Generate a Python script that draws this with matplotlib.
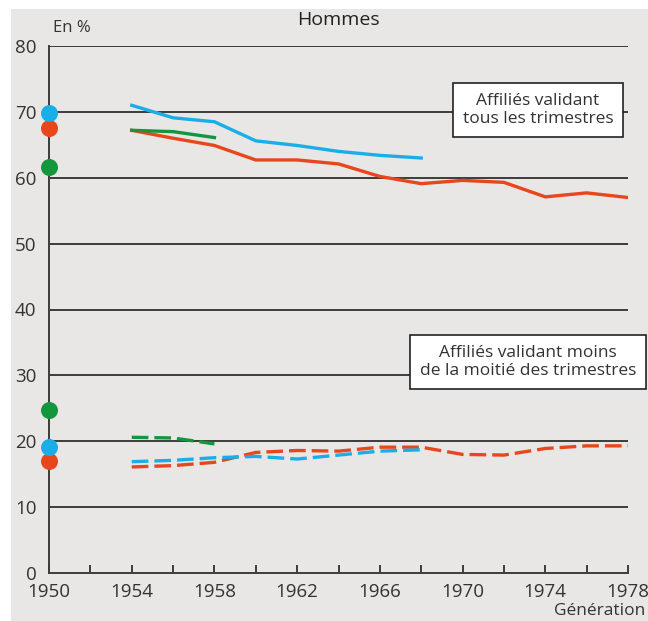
import matplotlib.pyplot as plt
from matplotlib.patches import Rectangle

plt.rcParams['font.family'] = ['Open Sans', 'DejaVu Sans']

# générations
gen_bleu = [1954, 1956, 1958, 1960, 1962, 1964, 1966, 1968]
gen_vert = [1954, 1956, 1958]
gen_rouge = [1954, 1956, 1958, 1960, 1962, 1964, 1966, 1968, 1970, 1972, 1974, 1976, 1978]

# affiliés validant tous les trimestres
tous_bleu = [71.0, 69.1, 68.5, 65.6, 64.9, 64.0, 63.4, 63.0]
tous_vert = [67.2, 67.0, 66.1]
tous_rouge = [67.2, 66.0, 64.9, 62.7, 62.7, 62.1, 60.2, 59.1, 59.6, 59.3, 57.1, 57.7, 57.0]

# affiliés validant moins de la moitié des trimestres
moins_bleu = [16.9, 17.1, 17.5, 17.7, 17.3, 17.9, 18.5, 18.7]
moins_vert = [20.6, 20.5, 19.6]
moins_rouge = [16.1, 16.3, 16.8, 18.3, 18.6, 18.5, 19.1, 19.1, 18.0, 17.9, 18.9, 19.3, 19.3]

# génération 1950 (points)
pts_tous = {"bleu": 69.9, "rouge": 67.6, "vert": 61.6}
pts_moins = {"bleu": 19.1, "rouge": 17.0, "vert": 24.8}

couleurs = {"bleu": "#1aaee8", "rouge": "#e8461c", "vert": "#14973c"}
gris_fond = "#e8e7e5"
gris_txt = "#333333"

fig = plt.figure(figsize=(6.48, 6.21), dpi=100, facecolor="white")
fig.patches.append(Rectangle((11 / 648, 0), 1, 1 - 9 / 621, transform=fig.transFigure,
                             facecolor=gris_fond, edgecolor="none", zorder=-10))

ax = fig.add_axes([49 / 648, 48 / 621, 579 / 648, 527 / 621])
ax.set_facecolor("none")
ax.set_xlim(1950, 1978)
ax.set_ylim(0, 80)

for v in range(10, 90, 10):
    ax.axhline(v, color="#3c3c3c", lw=1.4, zorder=1)

lw = 2.4
ax.plot(gen_bleu, tous_bleu, color=couleurs["bleu"], lw=lw, zorder=3)
ax.plot(gen_rouge, tous_rouge, color=couleurs["rouge"], lw=lw, zorder=3)
ax.plot(gen_vert, tous_vert, color=couleurs["vert"], lw=lw, zorder=4)

dash = (0, (5, 1.8))
ax.plot(gen_vert, moins_vert, color=couleurs["vert"], lw=lw, ls=dash, zorder=3)
ax.plot(gen_rouge, moins_rouge, color=couleurs["rouge"], lw=lw, ls=dash, zorder=3)
ax.plot(gen_bleu, moins_bleu, color=couleurs["bleu"], lw=lw, ls=dash, zorder=4)

for nom in ["vert", "rouge", "bleu"]:
    ax.scatter([1950], [pts_tous[nom]], s=150, color=couleurs[nom], zorder=5, clip_on=False, lw=0)
    ax.scatter([1950], [pts_moins[nom]], s=150, color=couleurs[nom], zorder=5, clip_on=False, lw=0)

for s in ["top", "right"]:
    ax.spines[s].set_visible(False)
for s in ["left", "bottom"]:
    ax.spines[s].set_color("#3c3c3c")
    ax.spines[s].set_linewidth(1.4)
    ax.spines[s].set_zorder(2)

ax.set_yticks(range(0, 90, 10))
ax.set_xticks(range(1950, 1979, 4))
ax.set_xticks(range(1950, 1979, 2), minor=True)
ax.tick_params(axis="y", length=0, pad=9, labelsize=13.5, labelcolor=gris_txt)
ax.tick_params(axis="x", which="both", direction="in", length=6, width=1.4, color="#3c3c3c",
               labelsize=13.5, labelcolor=gris_txt, pad=7)

fig.text(53 / 648, 1 - 28 / 621, "En %", fontsize=12, color=gris_txt, ha="left", va="center")
fig.text(338 / 648, 1 - 20 / 621, "Hommes", fontsize=14, color="#222222", ha="center", va="center")
fig.text(645 / 648, 1 - 611 / 621, "Génération", fontsize=12.5, color=gris_txt, ha="right", va="center")

box = dict(boxstyle="square,pad=0.55", facecolor="white", edgecolor="#222222", lw=1.2)
fig.text(538 / 648, 1 - 110 / 621, "Affiliés validant\ntous les trimestres", fontsize=12.5,
         color=gris_txt, ha="center", va="center", bbox=box, linespacing=1.2)
fig.text(528 / 648, 1 - 362 / 621, "Affiliés validant moins\nde la moitié des trimestres", fontsize=12.5,
         color=gris_txt, ha="center", va="center", bbox=box, linespacing=1.2)

fig.savefig("out.png", dpi=100, facecolor=fig.get_facecolor())
